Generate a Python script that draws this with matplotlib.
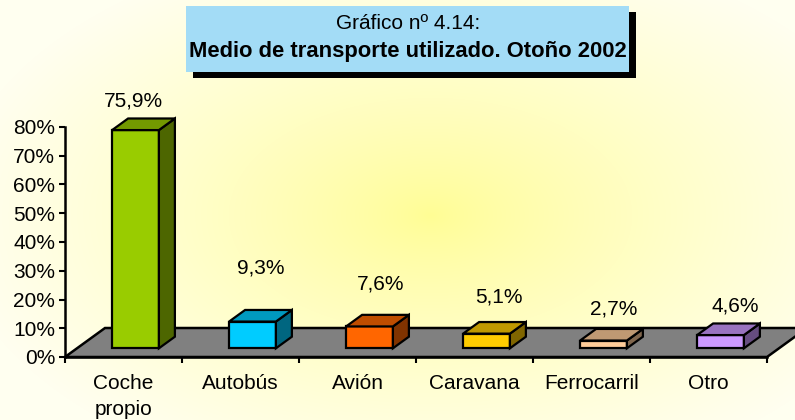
import numpy as np
import matplotlib
matplotlib.use("Agg")
import matplotlib.pyplot as plt
from matplotlib.patches import Polygon, Rectangle

plt.rcParams['font.family'] = ['Liberation Sans', 'DejaVu Sans']

# ---------------- data ----------------
categories = ["Coche\npropio", "Autobús", "Avión", "Caravana", "Ferrocarril", "Otro"]
values = [75.9, 9.3, 7.6, 5.1, 2.7, 4.6]
value_labels = ["75,9%", "9,3%", "7,6%", "5,1%", "2,7%", "4,6%"]
yticks = [0, 10, 20, 30, 40, 50, 60, 70, 80]
ytick_labels = ["0%", "10%", "20%", "30%", "40%", "50%", "60%", "70%", "80%"]
title_line1 = "Gráfico nº 4.14:"
title_line2 = "Medio de transporte utilizado. Otoño 2002"

# ---------------- style ----------------
front_colors = ["#99CC00", "#00CCFF", "#FF6600", "#FFCC00", "#FFCC99", "#CC99FF"]
label_nudge_pt = [(-7, 12.6), (0.5, 30.2), (2.5, 22.3), (3.5, 18.0), (1.5, 14.4), (4.5, 12.5)]

W, H, DPI = 795, 420, 100
fig = plt.figure(figsize=(W / DPI, H / DPI), dpi=DPI)

# background radial gradient
bg = fig.add_axes([0, 0, 1, 1], zorder=0)
bg.set_axis_off()
yy, xx = np.mgrid[0:H, 0:W]
r = np.sqrt(((xx - 430) / 480.0) ** 2 + ((yy - 215) / 280.0) ** 2)
r = np.clip(r, 0, 1) ** 0.8
center = np.array([255, 253, 148]) / 255.0
edge = np.array([255, 255, 240]) / 255.0
img = center[None, None, :] * (1 - r[..., None]) + edge[None, None, :] * r[..., None]
bg.imshow(img, extent=[0, W, H, 0], aspect='auto', interpolation='bilinear')
bg.set_xlim(0, W)
bg.set_ylim(H, 0)

# main axes
left_px, right_px, zero_px, top_px = 65, 767, 357, 127
ax = fig.add_axes([left_px / W, 1 - zero_px / H, (right_px - left_px) / W, (zero_px - top_px) / H], zorder=1)
ax.patch.set_alpha(0)
n = len(categories)
ax.set_xlim(0, n)
ax.set_ylim(0, 80)

DX = 40 / 117.0      # floor depth in category units
DY = 29 / 2.875      # floor depth in % units

# floor
floor = Polygon([(0, 0), (n, 0), (n + DX, DY), (DX, DY)], closed=True,
                facecolor="#808080", edgecolor="black", linewidth=1.8,
                clip_on=False, zorder=1, joinstyle='miter')
ax.add_patch(floor)

def shade(c, f):
    rgb = np.array(matplotlib.colors.to_rgb(c))
    return tuple(rgb * f)

d0, dd, bw = 0.3, 0.4, 0.40
xs = np.arange(n) + 0.5 + d0 * DX
base = d0 * DY
bars = ax.bar(xs, values, width=bw, bottom=base, color=front_colors,
              edgecolor="black", linewidth=1.6, zorder=3, clip_on=False)
for i, (b, v, c) in enumerate(zip(bars, values, front_colors)):
    x0 = b.get_x()
    x1 = x0 + b.get_width()
    y0 = base
    y1 = base + v
    ddx, ddy = dd * DX, dd * DY
    top = Polygon([(x0, y1), (x1, y1), (x1 + ddx, y1 + ddy), (x0 + ddx, y1 + ddy)],
                  closed=True, facecolor=shade(c, 0.75), edgecolor="black",
                  linewidth=1.6, zorder=3, clip_on=False)
    side = Polygon([(x1, y0), (x1 + ddx, y0 + ddy), (x1 + ddx, y1 + ddy), (x1, y1)],
                   closed=True, facecolor=shade(c, 0.5), edgecolor="black",
                   linewidth=1.6, zorder=3, clip_on=False)
    ax.add_patch(side)
    ax.add_patch(top)
    nx, ny = label_nudge_pt[i]
    ax.annotate(value_labels[i], xy=(i + 0.5 + (d0 + dd / 2) * DX, y1 + ddy),
                xytext=(nx, ny), textcoords='offset points',
                ha='center', va='center', fontsize=15, zorder=5,
                annotation_clip=False)

# axes styling
for s in ["top", "right"]:
    ax.spines[s].set_visible(False)
ax.spines["left"].set_linewidth(1.8)
ax.spines["bottom"].set_linewidth(1.8)
ax.spines["left"].set_zorder(4)
ax.spines["bottom"].set_zorder(4)
ax.set_yticks(yticks)
ax.set_yticklabels(ytick_labels, fontsize=15)
ax.tick_params(axis='y', direction='out', length=4.5, width=1.5, pad=2.5)
ax.set_xticks(np.arange(n + 1))
ax.set_xticklabels([])
ax.tick_params(axis='x', which='major', direction='out', length=4.5, width=1.5)
ax.set_xticks(np.arange(n) + 0.5, minor=True)
ax.set_xticklabels(categories, minor=True, fontsize=15, linespacing=1.42)
ax.tick_params(axis='x', which='minor', length=0, pad=12.5)

# title box
shadow = Rectangle(((186 + 7) / W, 1 - (72 + 6) / H), 443 / W, 66 / H,
                   transform=fig.transFigure, facecolor="black", edgecolor="none", zorder=2)
box = Rectangle((186 / W, 1 - 72 / H), 443 / W, 66 / H,
                transform=fig.transFigure, facecolor="#A3DCF6", edgecolor="none", zorder=3)
fig.add_artist(shadow)
fig.add_artist(box)
fig.text(408 / W, 1 - 23.5 / H, title_line1, ha='center', va='center', fontsize=15, zorder=4)
fig.text(408 / W, 1 - 51 / H, title_line2, ha='center', va='center', fontsize=15.8,
         fontweight='bold', zorder=4)

fig.savefig("out.png", dpi=DPI)
